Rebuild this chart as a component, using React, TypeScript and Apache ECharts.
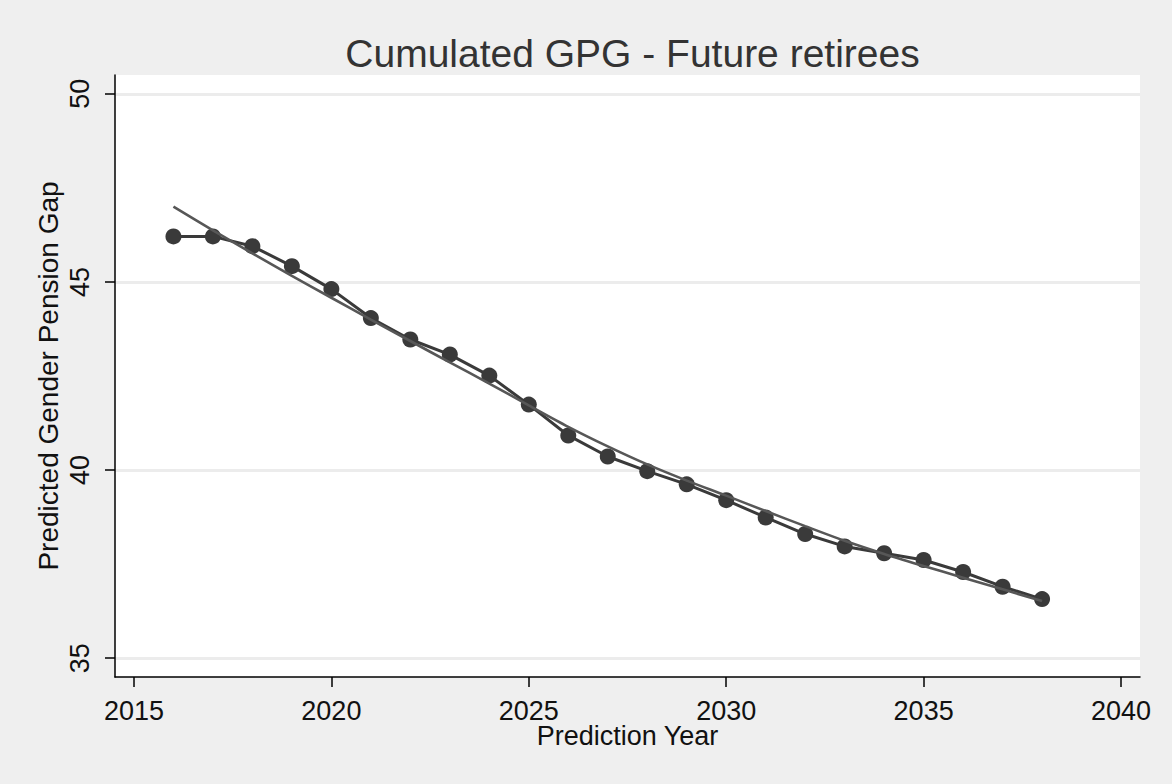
import React, { useEffect, useRef } from "react";
import * as echarts from "echarts";

// Prediction years and the predicted gender pension gap for each year
const years = [
  2016, 2017, 2018, 2019, 2020, 2021, 2022, 2023, 2024, 2025, 2026, 2027,
  2028, 2029, 2030, 2031, 2032, 2033, 2034, 2035, 2036, 2037, 2038,
];
const predictedGap = [
  46.21, 46.21, 45.95, 45.42, 44.81, 44.04, 43.47, 43.07, 42.51, 41.74, 40.92,
  40.36, 39.97, 39.62, 39.2, 38.74, 38.3, 37.97, 37.79, 37.61, 37.29, 36.9,
  36.57,
];
// Fitted trend curve over the same years
const fittedGap = [
  47.0, 46.37, 45.76, 45.16, 44.58, 44.0, 43.43, 42.86, 42.3, 41.72, 41.15,
  40.63, 40.15, 39.72, 39.32, 38.91, 38.51, 38.12, 37.77, 37.45, 37.14, 36.83,
  36.52,
];
const xTicks = [2015, 2020, 2025, 2030, 2035, 2040];
const yTicks = [35, 40, 45, 50];

const FONT = "Liberation Sans, Arial, sans-serif";

export default function App() {
  const ref = useRef<HTMLDivElement>(null);

  useEffect(() => {
    if (!ref.current) return;
    const chart = echarts.init(ref.current, undefined, { renderer: "svg" });
    chart.setOption({
      animation: false,
      backgroundColor: "#efefef",
      textStyle: { fontFamily: FONT },
      title: {
        text: "Cumulated GPG - Future retirees",
        left: 627.5,
        textAlign: "center",
        top: 29,
        textStyle: {
          fontFamily: FONT,
          fontSize: 39,
          fontWeight: "normal",
          color: "#333333",
          lineHeight: 39,
        },
      },
      grid: {
        left: 115,
        right: 32,
        top: 75,
        bottom: 107,
        show: true,
        backgroundColor: "#ffffff",
        borderWidth: 0,
      },
      xAxis: {
        type: "value",
        min: 2014.52,
        max: 2040.48,
        name: "Prediction Year",
        nameLocation: "middle",
        nameGap: 45,
        nameMoveOverlap: false,
        nameTextStyle: { fontFamily: FONT, fontSize: 27, color: "#111111" },
        axisLine: { show: true, lineStyle: { color: "#000000", width: 1.5 } },
        axisTick: {
          show: true,
          length: 10,
          customValues: xTicks,
          lineStyle: { color: "#000000", width: 1.5 },
        },
        axisLabel: {
          customValues: xTicks,
          margin: 20,
          fontFamily: FONT,
          fontSize: 27,
          color: "#111111",
          formatter: (v: number) => String(v),
        },
        splitLine: { show: false },
      },
      yAxis: {
        type: "value",
        min: 34.5,
        max: 50.5,
        name: "Predicted Gender Pension Gap",
        nameLocation: "middle",
        nameGap: 53,
        nameMoveOverlap: false,
        nameTextStyle: { fontFamily: FONT, fontSize: 28, color: "#111111" },
        axisLine: { show: true, lineStyle: { color: "#000000", width: 1.5 } },
        axisTick: {
          show: true,
          length: 10,
          customValues: yTicks,
          lineStyle: { color: "#000000", width: 1.5 },
        },
        axisLabel: {
          customValues: yTicks,
          rotate: 90,
          margin: 22,
          fontFamily: FONT,
          fontSize: 27,
          color: "#111111",
          formatter: (v: number) => String(v),
        },
        splitLine: {
          show: true,
          lineStyle: { color: "#ececec", width: 3 },
        },
      },
      series: [
        {
          type: "line",
          data: years.map((y, i) => [y, predictedGap[i]]),
          symbol: "circle",
          symbolSize: 16,
          showSymbol: true,
          lineStyle: { color: "#3a3a3a", width: 3 },
          itemStyle: { color: "#3a3a3a" },
          z: 2,
        },
        {
          type: "line",
          data: years.map((y, i) => [y, fittedGap[i]]),
          symbol: "none",
          smooth: 0.3,
          lineStyle: { color: "#575757", width: 2.6 },
          z: 3,
        },
      ],
    });
    return () => chart.dispose();
  }, []);

  return (
    <div
      ref={ref}
      style={{ position: "fixed", left: 0, top: 0, width: 1172, height: 784 }}
    />
  );
}
